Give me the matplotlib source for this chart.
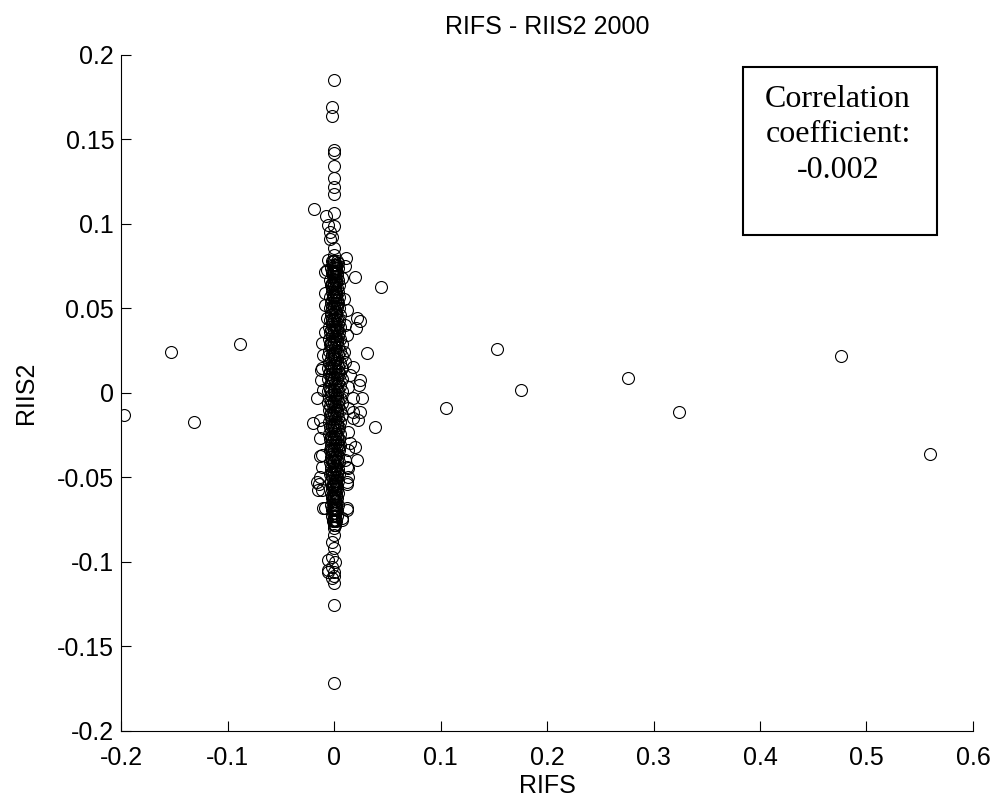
import matplotlib.pyplot as plt
from matplotlib.patches import Rectangle

# far-away points
rifs_far = [-0.197, -0.153, -0.132, -0.088, 0.105, 0.153, 0.176, 0.276, 0.324, 0.476, 0.560]
riis2_far = [-0.013, 0.024, -0.017, 0.029, -0.009, 0.026, 0.002, 0.009, -0.011, 0.022, -0.036]

# long thin tails of the column (top and bottom)
rifs_tail = [0.0, -0.002, -0.002, 0.0, 0.0, 0.0, 0.0, 0.0, 0.0, -0.019, 0.0, -0.008,
             -0.006, 0.0, -0.004, -0.002, -0.004, 0.0, 0.0,
             0.0, 0.0, -0.002, 0.0, -0.002, -0.006, 0.001, -0.002, -0.006, 0.0,
             -0.006, 0.0, -0.002, 0.0, 0.0, 0.0]
riis2_tail = [0.185, 0.169, 0.164, 0.144, 0.142, 0.134, 0.127, 0.122, 0.118, 0.109, 0.1065, 0.105,
              0.0994, 0.0988, 0.0953, 0.0923, 0.091, 0.0858, 0.0817,
              -0.080, -0.084, -0.088, -0.092, -0.097, -0.0988, -0.100, -0.103, -0.105, -0.106,
              -0.106, -0.108, -0.1095, -0.1125, -0.1254, -0.1716]

# scattered points around the column
rifs_edge = [0.011, -0.006, 0.004, 0.010, -0.009, 0.020, 0.0075, -0.007, 0.044, -0.0085,
             0.0094, 0.012, -0.0085, 0.0213, 0.0244, 0.0204, 0.0103, -0.007, 0.012, -0.009,
             0.0307, -0.0116, 0.0094, -0.0103, 0.0103, 0.018, -0.0116, 0.015, -0.0125, 0.0244,
             -0.0122, 0.0235, 0.013, -0.0103, 0.026, 0.018, -0.016, 0.013, 0.018, 0.0244,
             0.018, 0.0226, -0.013, -0.0197, -0.0103, 0.0385, 0.013, -0.013, 0.015, 0.0197,
             0.013, -0.0116, -0.013, 0.0103, 0.0213, -0.0116, 0.013, 0.012, -0.013, 0.013,
             -0.016, -0.014, 0.012, 0.012, -0.015, -0.0116, -0.0085, 0.012, -0.0103, 0.012,
             0.007, 0.007]
riis2_edge = [0.080, 0.0787, 0.077, 0.075, 0.0716, 0.0686, 0.068, 0.0728, 0.0627, 0.059,
              0.0556, 0.049, 0.052, 0.0444, 0.0426, 0.0387, 0.040, 0.0444, 0.0343, 0.036,
              0.0237, 0.0296, 0.0243, 0.0225, 0.0183, 0.0154, 0.0148, 0.0106, 0.0136, 0.0077,
              0.0077, 0.0047, 0.0036, 0.0018, -0.003, -0.003, -0.003, -0.009, -0.011, -0.011,
              -0.0148, -0.016, -0.016, -0.0178, -0.0207, -0.020, -0.023, -0.0266, -0.0296, -0.032,
              -0.0337, -0.0367, -0.0373, -0.0396, -0.0396, -0.0438, -0.0444, -0.0436, -0.050, -0.050,
              -0.0525, -0.054, -0.054, -0.0527, -0.0574, -0.0574, -0.068, -0.068, -0.068, -0.069,
              -0.074, -0.075]

# dense core of the column
core_y = [0.078, 0.074, 0.071, 0.067, 0.064, 0.060, 0.057, 0.053, 0.050, 0.046,
          0.043, 0.039, 0.036, 0.032, 0.029, 0.025, 0.022, 0.018, 0.015, 0.011,
          0.008, 0.004, 0.001, -0.003, -0.006, -0.010, -0.013, -0.017, -0.020, -0.024,
          -0.027, -0.031, -0.034, -0.038, -0.041, -0.045, -0.048, -0.052, -0.055, -0.059,
          -0.062, -0.066, -0.069, -0.073, -0.076]
core_x_left = [-0.002, -0.003, -0.002, -0.004, -0.003, -0.002, -0.004, -0.003, -0.004, -0.003,
               -0.004, -0.005, -0.004, -0.005, -0.004, -0.005, -0.006, -0.005, -0.006, -0.005,
               -0.006, -0.005, -0.006, -0.005, -0.006, -0.005, -0.004, -0.005, -0.004, -0.005,
               -0.004, -0.003, -0.004, -0.003, -0.004, -0.003, -0.004, -0.003, -0.002, -0.003,
               -0.002, -0.003, -0.002, -0.002, -0.001]
core_x_mid = [0.000, 0.001, 0.000, 0.001, 0.000, 0.001, 0.000, 0.001, 0.000, 0.001,
              0.000, 0.001, 0.000, 0.001, 0.000, 0.001, 0.000, 0.001, 0.000, 0.001,
              0.000, 0.001, 0.000, 0.001, 0.000, 0.001, 0.000, 0.001, 0.000, 0.001,
              0.000, 0.001, 0.000, 0.001, 0.000, 0.001, 0.000, 0.001, 0.000, 0.001,
              0.000, 0.001, 0.000, 0.001, 0.000]
core_x_right = [0.003, 0.004, 0.003, 0.004, 0.005, 0.004, 0.005, 0.004, 0.005, 0.006,
                0.005, 0.006, 0.005, 0.006, 0.007, 0.006, 0.007, 0.006, 0.007, 0.006,
                0.007, 0.006, 0.007, 0.006, 0.007, 0.006, 0.007, 0.006, 0.005, 0.006,
                0.005, 0.006, 0.005, 0.004, 0.005, 0.004, 0.005, 0.004, 0.003, 0.004,
                0.003, 0.004, 0.003, 0.003, 0.002]
core_x_inner = [-0.001, 0.002, -0.001, 0.002, -0.002, 0.002, -0.001, 0.003, -0.002, 0.002,
                -0.002, 0.003, -0.002, 0.003, -0.003, 0.003, -0.002, 0.003, -0.003, 0.003,
                -0.002, 0.003, -0.003, 0.003, -0.002, 0.003, -0.002, 0.003, -0.002, 0.002,
                -0.002, 0.003, -0.002, 0.002, -0.001, 0.002, -0.002, 0.002, -0.001, 0.002,
                -0.001, 0.002, -0.001, 0.001, 0.001]

# second, interleaved layer of the core
core_y2 = [0.076, 0.072, 0.069, 0.065, 0.062, 0.058, 0.055, 0.051, 0.048, 0.044,
           0.041, 0.037, 0.034, 0.030, 0.027, 0.023, 0.020, 0.016, 0.013, 0.009,
           0.006, 0.002, -0.001, -0.005, -0.008, -0.012, -0.015, -0.019, -0.022, -0.026,
           -0.029, -0.033, -0.036, -0.040, -0.043, -0.047, -0.050, -0.054, -0.057, -0.061,
           -0.064, -0.068, -0.071, -0.075, -0.078]
core_x2_left = [-0.001, -0.002, -0.001, -0.002, -0.002, -0.001, -0.002, -0.002, -0.003, -0.002,
                -0.002, -0.003, -0.002, -0.003, -0.003, -0.002, -0.003, -0.003, -0.004, -0.003,
                -0.003, -0.004, -0.003, -0.003, -0.004, -0.003, -0.003, -0.002, -0.003, -0.003,
                -0.002, -0.003, -0.002, -0.002, -0.003, -0.002, -0.002, -0.001, -0.002, -0.002,
                -0.001, -0.002, -0.001, -0.001, 0.000]
core_x2_right = [0.002, 0.002, 0.003, 0.002, 0.003, 0.002, 0.003, 0.003, 0.002, 0.003,
                 0.004, 0.003, 0.004, 0.003, 0.004, 0.004, 0.003, 0.004, 0.004, 0.003,
                 0.004, 0.004, 0.003, 0.004, 0.004, 0.003, 0.004, 0.003, 0.004, 0.003,
                 0.003, 0.004, 0.003, 0.003, 0.002, 0.003, 0.003, 0.002, 0.003, 0.002,
                 0.002, 0.002, 0.001, 0.002, 0.001]
core_x2_mid = [0.001, 0.000, 0.001, 0.000, 0.001, 0.000, 0.001, 0.000, 0.001, 0.000,
               0.001, 0.000, 0.001, 0.000, 0.001, 0.000, 0.001, 0.000, 0.001, 0.000,
               0.001, 0.000, 0.001, 0.000, 0.001, 0.000, 0.001, 0.000, 0.001, 0.000,
               0.001, 0.000, 0.001, 0.000, 0.001, 0.000, 0.001, 0.000, 0.001, 0.000,
               0.001, 0.000, 0.001, 0.000, 0.001]

plt.rcParams['font.family'] = ['Liberation Sans', 'DejaVu Sans']

fig = plt.figure(figsize=(10.01, 8.01), dpi=100)
ax = fig.add_axes([0.121, 0.0874, 0.851, 0.844])

mk = dict(linestyle='none', marker='o', markersize=8.6, markerfacecolor='none',
          markeredgecolor='black', markeredgewidth=0.8)
for xs, ys in [(rifs_far, riis2_far), (rifs_tail, riis2_tail), (rifs_edge, riis2_edge),
               (core_x_left, core_y), (core_x_mid, core_y), (core_x_right, core_y),
               (core_x_inner, core_y),
               (core_x2_left, core_y2), (core_x2_right, core_y2), (core_x2_mid, core_y2)]:
    ax.plot(xs, ys, **mk)

ax.set_xlim(-0.2, 0.6)
ax.set_ylim(-0.2, 0.2)
ax.set_xticks([-0.2, -0.1, 0, 0.1, 0.2, 0.3, 0.4, 0.5, 0.6])
ax.set_xticklabels(['-0.2', '-0.1', '0', '0.1', '0.2', '0.3', '0.4', '0.5', '0.6'])
ax.set_yticks([-0.2, -0.15, -0.1, -0.05, 0, 0.05, 0.1, 0.15, 0.2])
ax.set_yticklabels(['-0.2', '-0.15', '-0.1', '-0.05', '0', '0.05', '0.1', '0.15', '0.2'])
ax.spines['top'].set_visible(False)
ax.spines['right'].set_visible(False)
ax.tick_params(direction='in', length=7, width=0.8, labelsize=18)
ax.tick_params(axis='x', pad=11)
ax.tick_params(axis='y', pad=5)

ax.set_title('RIFS - RIIS2 2000', fontsize=18, pad=15)
ax.set_xlabel('RIFS', fontsize=18, labelpad=3)
ax.set_ylabel('RIIS2', fontsize=18, labelpad=14)

ax.add_patch(Rectangle((0.730, 0.734), 0.228, 0.248, transform=ax.transAxes,
                       fill=False, edgecolor='black', linewidth=1.5, clip_on=False))
ax.text(0.8415, 0.882, 'Correlation\ncoefficient:\n-0.002', transform=ax.transAxes,
        ha='center', va='center', fontsize=23, family='Liberation Serif', linespacing=1.3)

fig.savefig('out.png', dpi=100)
